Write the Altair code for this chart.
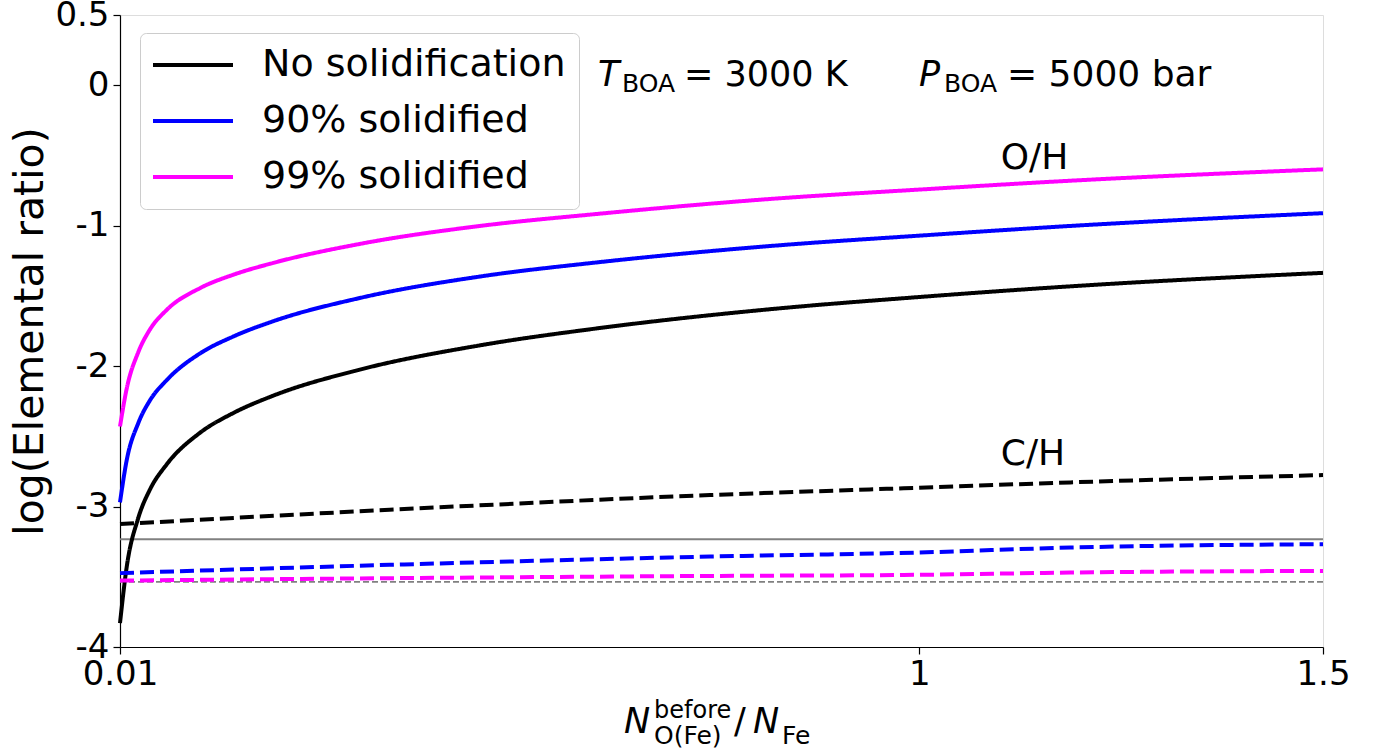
import altair as alt
import pandas as pd

# ---------------- data ----------------
series_names = ["No solidification", "90% solidified", "99% solidified"]
series_colors = ["#000000", "#0000ff", "#ff00ff"]

# O/H (solid lines)
x_oh = [0.01, 0.0183, 0.0327, 0.047, 0.0678, 0.109, 0.15, 0.2, 0.307,
        0.456, 0.6, 0.815, 1.0, 1.187, 1.5]
oh_none = [-3.83, -3.43, -3.08, -2.88, -2.70, -2.475, -2.335, -2.21, -2.025,
           -1.852, -1.732, -1.595, -1.508, -1.432, -1.336]
oh_90 = [-2.97, -2.67, -2.405, -2.245, -2.10, -1.91, -1.79, -1.68, -1.515,
         -1.362, -1.262, -1.145, -1.071, -1.002, -0.911]
oh_99 = [-2.43, -2.16, -1.90, -1.74, -1.60, -1.445, -1.35, -1.265, -1.13,
         -1.002, -0.917, -0.81, -0.743, -0.68, -0.599]

# C/H (dashed lines)
x_ch = [0.01, 0.344, 0.741, 1.0, 1.187, 1.5]
ch_none = [-3.125, -3.023, -2.918, -2.866, -2.828, -2.776]
ch_90 = [-3.474, -3.415, -3.356, -3.327, -3.292, -3.268]
ch_99 = [-3.527, -3.510, -3.494, -3.486, -3.470, -3.458]

# horizontal reference levels (grey)
ref_solid = [-3.233]
ref_dashed = [-3.536]

x_ticks = [0.01, 1, 1.5]
y_ticks = [-4, -3, -2, -1, 0, 0.5]

# ---------------- build tables ----------------
rows = []
for name, ys in zip(series_names, [oh_none, oh_90, oh_99]):
    for xv, yv in zip(x_oh, ys):
        rows.append({"x": xv, "y": yv, "series": name, "species": "O/H"})
for name, ys in zip(series_names, [ch_none, ch_90, ch_99]):
    for xv, yv in zip(x_ch, ys):
        rows.append({"x": xv, "y": yv, "series": name, "species": "C/H"})
df = pd.DataFrame(rows)

FONT = "DejaVu Sans"

x_scale = alt.Scale(domain=[0.01, 1.5], nice=False, zero=False)
y_scale = alt.Scale(domain=[-4, 0.5], nice=False, zero=False)

x_axis = alt.Axis(values=x_ticks, labelExpr="'' + datum.value", labelFlush=False,
                  labelFontSize=34, labelFont=FONT, labelColor="black", labelPadding=3,
                  tickSize=7, tickColor="black", tickWidth=1.2, domainColor="black",
                  domainWidth=1.2, grid=False, title=None, labelOverlap=False)
y_axis = alt.Axis(values=y_ticks,
                  labelExpr="datum.value < 0 ? '-' + abs(datum.value) : '' + datum.value",
                  labelFontSize=34, labelFont=FONT, labelColor="black", labelPadding=4,
                  tickSize=7, tickColor="black", tickWidth=1.2, domainColor="black",
                  domainWidth=1.2, grid=False, title="log(Elemental ratio)",
                  titleFont=FONT, titleFontSize=41, titleFontWeight="normal",
                  titleColor="black", titlePadding=3, labelOverlap=False)

X = alt.X("x:Q", scale=x_scale, axis=x_axis)
Y = alt.Y("y:Q", scale=y_scale, axis=y_axis)

ref1 = alt.Chart(pd.DataFrame({"y": ref_solid})).mark_rule(
    color="#808080", strokeWidth=2).encode(y=Y)
ref2 = alt.Chart(pd.DataFrame({"y": ref_dashed})).mark_rule(
    color="#808080", strokeWidth=1.6, strokeDash=[6, 3]).encode(y=Y)

lines = alt.Chart(df).mark_line(strokeWidth=4, interpolate="monotone").encode(
    x=X, y=Y,
    color=alt.Color("series:N",
                    scale=alt.Scale(domain=series_names, range=series_colors),
                    legend=alt.Legend(title=None, orient="none", legendX=20, legendY=18,
                                      symbolType="M-16,0H16", symbolSize=25,
                                      symbolStrokeWidth=4, symbolOffset=21,
                                      labelFontSize=38, labelFont=FONT, labelColor="black",
                                      labelOffset=50, labelLimit=0, rowPadding=18,
                                      padding=13, strokeColor="#cccccc",
                                      fillColor="white", cornerRadius=6)),
    strokeDash=alt.StrokeDash("species:N",
                              scale=alt.Scale(domain=["O/H", "C/H"], range=[[1, 0], [14, 6]]),
                              legend=None),
    detail="series:N",
)

# ---------------- text annotations (data coordinates) ----------------
ann_italic = pd.DataFrame({
    "x": [0.6020, 0.9996, 0.6342, 0.7940],
    "y": [-0.0087, -0.0087, -4.6117, -4.6117],
    "text": ["T", "P", "N", "N"],
    "size": [35, 35, 35, 35],
})
ann_normal = pd.DataFrame({
    "x": [0.6318, 0.7086, 1.0306, 1.1086, 0.6714, 0.6714, 0.7705, 0.830],
    "y": [-0.0514, -0.0087, -0.0514, -0.0087, -4.505, -4.690, -4.6117, -4.690],
    "text": ["BOA", "= 3000 K", "BOA", "= 5000 bar", "before", "O(Fe)", "/", "Fe"],
    "size": [25, 35, 25, 36, 24, 25, 35, 25],
})
ann_center = pd.DataFrame({
    "x": [1.1427, 1.1408],
    "y": [-0.599, -2.705],
    "text": ["O/H", "C/H"],
})

t_italic = alt.Chart(ann_italic).mark_text(
    align="left", baseline="alphabetic", font=FONT, fontStyle="italic", color="black"
).encode(x=X, y=Y, text="text:N", size=alt.Size("size:Q", scale=None, legend=None))
t_normal = alt.Chart(ann_normal).mark_text(
    align="left", baseline="alphabetic", font=FONT, color="black"
).encode(x=X, y=Y, text="text:N", size=alt.Size("size:Q", scale=None, legend=None))
t_center = alt.Chart(ann_center).mark_text(
    align="center", baseline="alphabetic", font=FONT, fontSize=36, color="black"
).encode(x=X, y=Y, text="text:N")

chart = alt.layer(ref1, ref2, lines, t_italic, t_normal, t_center).resolve_scale(
    size="independent"
).properties(
    width=1203, height=632,
    autosize=alt.AutoSizeParams(type="none"),
    padding={"left": 120, "top": 15, "right": 62, "bottom": 104},
).configure_view(stroke="black", strokeWidth=1.2).configure(background="white")

chart.save("out.html", embed_options={"renderer": "svg", "actions": False})
